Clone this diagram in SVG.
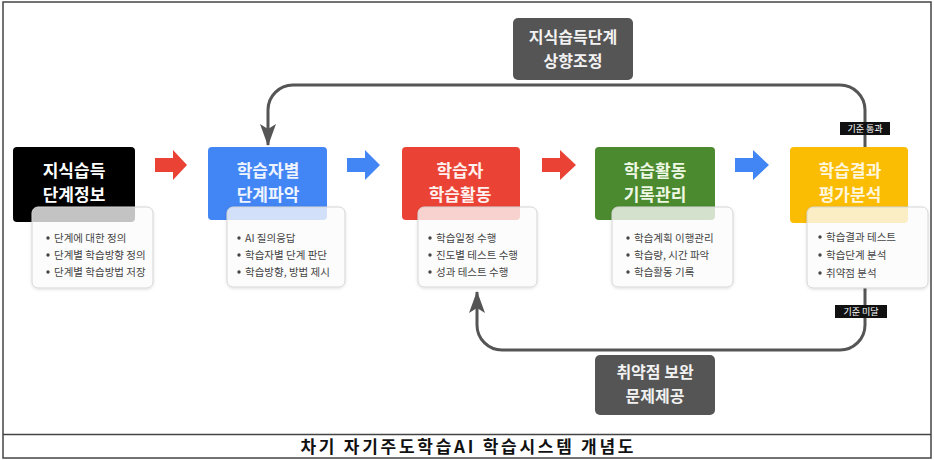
<svg xmlns="http://www.w3.org/2000/svg" width="934" height="460" viewBox="0 0 934 460">
<style>
  .hd { font-family: "Noto Sans CJK KR", "Noto Sans", sans-serif; font-weight: 700; font-size: 17px; text-anchor: middle; }
  .info { fill: #ffffff; fill-opacity: 0.75; stroke: #d6d6d6; stroke-width: 1; }
  .it { font-family: "Noto Sans CJK KR", "Noto Sans", sans-serif; font-size: 10.5px; fill: #444; }
  .bul { fill: #444; }
  .lbl { fill: #555; }
  .lt { font-family: "Noto Sans CJK KR", "Noto Sans", sans-serif; font-weight: 700; font-size: 16px; fill: #f2f2f2; text-anchor: middle; }
  .sl { fill: #111; }
  .st { font-family: "Noto Sans CJK KR", "Noto Sans", sans-serif; font-size: 9px; fill: #fff; text-anchor: middle; }
  .loop { fill: none; stroke: #555; stroke-width: 3; }
  .red { fill: #ea4335; }
  .blue { fill: #4285f4; }
  .cap { font-family: "Noto Sans CJK KR", "Noto Sans", sans-serif; font-weight: 700; font-size: 17px; fill: #111; text-anchor: middle; }
</style>
<defs>
  <filter id="sh" x="-10%" y="-10%" width="120%" height="130%">
    <feDropShadow dx="0" dy="1" stdDeviation="1.5" flood-color="#000" flood-opacity="0.15"/>
  </filter>
  <marker id="ah" markerUnits="userSpaceOnUse" markerWidth="22" markerHeight="16" viewBox="0 0 22 16" refX="21" refY="8" orient="auto">
    <path d="M0,0 L22,8 L0,16 L5,8 z" fill="#555"/>
  </marker>
</defs>
<rect x="0" y="0" width="934" height="460" fill="#fff"/>
<rect x="3" y="2" width="928" height="456" fill="none" stroke="#444" stroke-width="1.5"/>
<line x1="3" y1="434.5" x2="931" y2="434.5" stroke="#444" stroke-width="1.5"/>
<text class="cap" x="467" y="453" textLength="333" lengthAdjust="spacing">차기 자기주도학습AI 학습시스템 개념도</text>

<g id="connectors">
  <path class="red" d="M155,158 H173 V150 L187,165 L173,180 V172 H155 z"/>
  <path class="blue" d="M347,158 H365 V150 L380,165 L365,180 V172 H347 z"/>
  <path class="red" d="M542,158 H560 V150 L576,165 L560,180 V172 H542 z"/>
  <path class="blue" d="M735,158 H753 V150 L769,165 L753,180 V172 H735 z"/>
  <path class="loop" d="M865,147 L865,110 A25,25 0 0 0 840,85 L293,85 A25,25 0 0 0 268,110 L268,145" marker-end="url(#ah)"/>
  <path class="loop" d="M865,288 L865,325 A25,25 0 0 1 840,350 L502,350 A25,25 0 0 1 477,325 L477,292" marker-end="url(#ah)"/>
</g>

<g id="label-up">
  <rect class="lbl" x="513" y="18" width="120" height="62" rx="5"/>
  <text class="lt" x="573" y="43">지식습득단계</text>
  <text class="lt" x="573" y="67">상향조정</text>
</g>
<g id="label-down">
  <rect class="lbl" x="595" y="355" width="120" height="60" rx="5"/>
  <text class="lt" x="655" y="378">취약점 보완</text>
  <text class="lt" x="655" y="402">문제제공</text>
</g>
<g id="label-pass">
  <rect class="sl" x="840" y="122" width="50" height="13"/>
  <text class="st" x="865" y="132">기준 통과</text>
</g>

<g id="node1">
  <rect x="13" y="147" width="122" height="75" rx="4" fill="#000"/>
  <text class="hd" x="74" y="177" fill="#fff">지식습득</text>
  <text class="hd" x="74" y="201" fill="#fff">단계정보</text>
  <rect class="info" x="32" y="207" width="121" height="81" rx="6" stroke="#f0c4c4" filter="url(#sh)"/>
  <circle class="bul" cx="48" cy="238" r="1.7"/><text class="it" x="54" y="242">단계에 대한 정의</text>
  <circle class="bul" cx="48" cy="255" r="1.7"/><text class="it" x="54" y="259">단계별 학습방향 정의</text>
  <circle class="bul" cx="48" cy="272" r="1.7"/><text class="it" x="54" y="276">단계별 학습방법 저장</text>
</g>

<g id="node2">
  <rect x="208" y="147" width="119" height="73" rx="4" fill="#4285f4"/>
  <text class="hd" x="268" y="177" fill="#eef4ff">학습자별</text>
  <text class="hd" x="268" y="201" fill="#eef4ff">단계파악</text>
  <rect class="info" x="227" y="207" width="118" height="80" rx="6" filter="url(#sh)"/>
  <circle class="bul" cx="239" cy="238" r="1.7"/><text class="it" x="245" y="242">AI 질의응답</text>
  <circle class="bul" cx="239" cy="255" r="1.7"/><text class="it" x="245" y="259">학습자별 단계 판단</text>
  <circle class="bul" cx="239" cy="272" r="1.7"/><text class="it" x="245" y="276">학습방향, 방법 제시</text>
</g>

<g id="node3">
  <rect x="402" y="147" width="118" height="73" rx="4" fill="#ea4335"/>
  <text class="hd" x="460" y="177" fill="#fff0ee">학습자</text>
  <text class="hd" x="460" y="201" fill="#fff0ee">학습활동</text>
  <rect class="info" x="418" y="207" width="119" height="80" rx="6" filter="url(#sh)"/>
  <circle class="bul" cx="430" cy="238" r="1.7"/><text class="it" x="436" y="242">학습일정 수행</text>
  <circle class="bul" cx="430" cy="255" r="1.7"/><text class="it" x="436" y="259">진도별 테스트 수행</text>
  <circle class="bul" cx="430" cy="272" r="1.7"/><text class="it" x="436" y="276">성과 테스트 수행</text>
</g>

<g id="node4">
  <rect x="595" y="147" width="120" height="73" rx="4" fill="#4b8a2e"/>
  <text class="hd" x="655" y="177" fill="#eef8e4">학습활동</text>
  <text class="hd" x="655" y="201" fill="#eef8e4">기록관리</text>
  <rect class="info" x="612" y="207" width="121" height="80" rx="6" filter="url(#sh)"/>
  <circle class="bul" cx="628" cy="238" r="1.7"/><text class="it" x="634" y="242">학습계획 이행관리</text>
  <circle class="bul" cx="628" cy="255" r="1.7"/><text class="it" x="634" y="259">학습량, 시간 파악</text>
  <circle class="bul" cx="628" cy="272" r="1.7"/><text class="it" x="634" y="276">학습활동 기록</text>
</g>

<g id="node5">
  <rect x="790" y="147" width="118" height="76" rx="4" fill="#fbbc04"/>
  <text class="hd" x="850" y="177" fill="#fff6dc">학습결과</text>
  <text class="hd" x="850" y="201" fill="#fff6dc">평가분석</text>
  <rect class="info" x="807" y="207" width="121" height="81" rx="6" stroke="#f5e6b0" filter="url(#sh)"/>
  <circle class="bul" cx="820" cy="237" r="1.7"/><text class="it" x="826" y="241">학습결과 테스트</text>
  <circle class="bul" cx="820" cy="255" r="1.7"/><text class="it" x="826" y="259">학습단계 분석</text>
  <circle class="bul" cx="820" cy="273" r="1.7"/><text class="it" x="826" y="277">취약점 분석</text>
</g>

<g id="label-fail">
  <rect class="sl" x="835" y="305" width="52" height="13"/>
  <text class="st" x="861" y="315">기준 미달</text>
</g>
</svg>
